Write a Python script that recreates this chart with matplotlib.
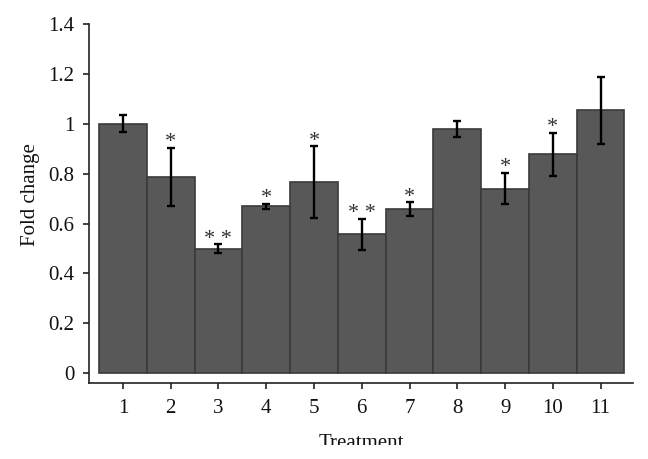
import numpy as np
import matplotlib
matplotlib.use('Agg')
import matplotlib.pyplot as plt
from matplotlib.patches import Rectangle

# Fold change per treatment

treatment = [1, 2, 3, 4, 5, 6, 7, 8, 9, 10, 11]
fold = [1.0, 0.787, 0.498, 0.670, 0.766, 0.556, 0.658, 0.979, 0.740, 0.877, 1.053]
err = [0.033, 0.117, 0.018, 0.010, 0.143, 0.064, 0.027, 0.033, 0.062, 0.086, 0.134]
stars = ['', '*', '**', '*', '*', '**', '*', '', '*', '*', '']

plt.rcParams['font.family'] = ['Liberation Serif', 'DejaVu Serif']

fig = plt.figure(figsize=(6.48, 4.59), dpi=100)
ax = fig.add_axes([0.1373, 0.1662, 0.8397, 0.7818])

ax.bar(treatment, fold, width=1.0, color='#585858', edgecolor='#3a3a3a', linewidth=1.2, zorder=2)
ax.errorbar(treatment, fold, yerr=err, fmt='none', ecolor='black', elinewidth=1.7,
            capsize=3, capthick=1.7, zorder=3)

# significance marks above the error bars
for x, y, e, s in zip(treatment, fold, err, stars):
	if s:
		ax.annotate(' '.join(s), (x, y + e), xytext=(0, 0.5), textcoords='offset points',
		            ha='center', va='baseline', fontsize=16, color='#333333')

ax.set_xlim(0.29, 11.68)
ax.set_ylim(-0.038, 1.4)
ax.set_xticks(treatment)
ax.set_yticks([0, 0.2, 0.4, 0.6, 0.8, 1.0, 1.2, 1.4])
ax.set_yticklabels(['0', '0.2', '0.4', '0.6', '0.8', '1', '1.2', '1.4'])

for side in ['top', 'right']:
	ax.spines[side].set_visible(False)
for side in ['left', 'bottom']:
	ax.spines[side].set_linewidth(1.2)
	ax.spines[side].set_color('#222222')

ax.tick_params(axis='both', direction='out', length=4.5, width=1.2, color='#222222',
               labelsize=15, labelcolor='#111111')
ax.tick_params(axis='y', pad=6)
ax.tick_params(axis='x', pad=7)

ax.set_ylabel('Fold change', fontsize=15, va='center', color='#111111')
ax.yaxis.set_label_coords(-0.108, 0.524)
ax.set_xlabel('Treatment', fontsize=15, va='top', color='#111111')
ax.xaxis.set_label_coords(0.5, -0.142)

# bottom of the original picture is cropped through the axis title
fig.add_artist(Rectangle((0, 0), 1, 14 / 459, transform=fig.transFigure,
                         facecolor='white', edgecolor='none', zorder=10))

plt.savefig('out.png', dpi=100)
